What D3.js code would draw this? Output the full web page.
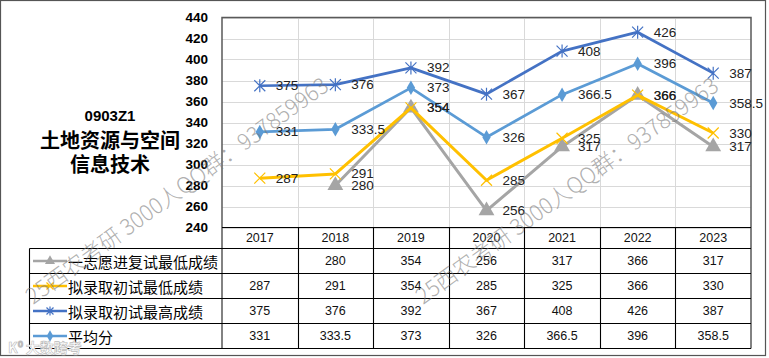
<!DOCTYPE html>
<html>
<head>
<meta charset="utf-8">
<script src="https://cdn.jsdelivr.net/npm/d3@7"></script>
<style>
html,body{margin:0;padding:0;background:#fff;}
svg{display:block;}
</style>
</head>
<body>
<svg id="chart" width="769" height="358"></svg>
<script>
const years = ["2017","2018","2019","2020","2021","2022","2023"];
const seriesNames = ["一志愿进复试最低成绩","拟录取初试最低成绩","拟录取初试最高成绩","平均分"];
const firstChoiceMin = [null,280,354,256,317,366,317];
const admitMin = [287,291,354,285,325,366,330];
const admitMax = [375,376,392,367,408,426,387];
const average = [331,333.5,373,326,366.5,396,358.5];
const yTicks = [240,260,280,300,320,340,360,380,400,420,440];
const titleLines = ["0903Z1","土地资源与空间","信息技术"];
const watermark = "25西农考研 3000人QQ群：937859963";

const seriesValues = [firstChoiceMin, admitMin, admitMax, average];
const colors = ["#A5A5A5","#FFC000","#4472C4","#5B9BD5"];
const markers = ["triangle","x","asterisk","diamond"];

const svg = d3.select("#chart");
const pLeft = 222, pRight = 751, pTop = 17.5, pBottom = 227.5;
const tableRows = [248.5, 273.5, 298.5, 323.5, 348.5];
const legendLeft = 29.5;

const x = d3.scaleBand().domain(years).range([pLeft, pRight]).padding(0);
const y = d3.scaleLinear().domain([240, 440]).range([pBottom, pTop]);

// outer frame
svg.append("rect").attr("x",0.5).attr("y",0.5).attr("width",765).attr("height",355)
  .attr("fill","#fff").attr("stroke","#555").attr("stroke-width",1.2);

// gridlines
svg.append("g").selectAll("line").data(yTicks).join("line")
  .attr("x1",pLeft).attr("x2",pRight)
  .attr("y1",d=>Math.round(y(d))+0.5).attr("y2",d=>Math.round(y(d))+0.5)
  .attr("stroke","#D9D9D9").attr("stroke-width",1);
svg.append("g").selectAll("line").data(years.slice(1)).join("line")
  .attr("x1",d=>Math.round(x(d))+0.5).attr("x2",d=>Math.round(x(d))+0.5)
  .attr("y1",pTop).attr("y2",pBottom)
  .attr("stroke","#D9D9D9").attr("stroke-width",1);

// y axis labels
const yAxis = d3.axisLeft(y).tickValues(yTicks).tickSize(0).tickPadding(0);
const ya = svg.append("g").attr("transform",`translate(${pLeft-14},0)`).call(yAxis);
ya.select(".domain").remove();
ya.selectAll("text").attr("font-family","'Liberation Sans',Arial,sans-serif")
  .attr("font-size",13.5).attr("font-weight","bold").attr("fill","#000");

// plot border
svg.append("path")
  .attr("d",`M${pLeft},${tableRows[4]}V${pTop}H${pRight}V${tableRows[4]}`)
  .attr("fill","none").attr("stroke","#595959").attr("stroke-width",1.5);

// table
const tg = svg.append("g").attr("stroke","#000").attr("stroke-width",1.1);
tg.append("line").attr("x1",pLeft).attr("x2",pRight).attr("y1",pBottom).attr("y2",pBottom);
tableRows.forEach(r=>{
  tg.append("line").attr("x1",legendLeft).attr("x2",pRight).attr("y1",r).attr("y2",r);
});
tg.append("line").attr("x1",legendLeft).attr("x2",legendLeft).attr("y1",tableRows[0]).attr("y2",tableRows[4]);
years.slice(1).forEach(yr=>{
  tg.append("line").attr("x1",Math.round(x(yr))+0.5).attr("x2",Math.round(x(yr))+0.5)
    .attr("y1",pBottom).attr("y2",tableRows[4]);
});

const numFont = "'Liberation Sans',Arial,sans-serif";
svg.append("g").selectAll("text").data(years).join("text")
  .attr("x",d=>x(d)+x.bandwidth()/2).attr("y",(pBottom+tableRows[0])/2)
  .attr("text-anchor","middle").attr("dominant-baseline","central")
  .attr("font-family",numFont).attr("font-size",12.5).attr("fill","#111").text(d=>d);

function drawMarker(sel, type, color, size){
  const s = size;
  if(type==="triangle"){
    sel.append("path").attr("d",d3.symbol(d3.symbolTriangle, s*s*0.9)()).attr("fill",color);
  } else if(type==="diamond"){
    sel.append("path").attr("d",d3.symbol(d3.symbolDiamond, s*s*0.75)()).attr("fill",color);
  } else if(type==="x"){
    const h=s/2;
    sel.append("path").attr("d",`M${-h},${-h}L${h},${h}M${-h},${h}L${h},${-h}`)
      .attr("stroke",color).attr("stroke-width",1.2).attr("fill","none");
  } else if(type==="asterisk"){
    const h=s/2;
    sel.append("path").attr("d",`M${-h},${-h}L${h},${h}M${-h},${h}L${h},${-h}M0,${-h-1}L0,${h+1}`)
      .attr("stroke",color).attr("stroke-width",1.2).attr("fill","none");
  }
}

seriesValues.forEach((vals,i)=>{
  const rc = (tableRows[i]+tableRows[i+1])/2;
  const lg = svg.append("g");
  lg.append("line").attr("x1",33).attr("x2",67).attr("y1",rc).attr("y2",rc)
    .attr("stroke",colors[i]).attr("stroke-width",2.5);
  drawMarker(lg.append("g").attr("transform",`translate(50,${rc})`), markers[i], colors[i], 7);
  lg.append("text").attr("x",68).attr("y",rc).attr("dominant-baseline","central")
    .attr("font-family","'Noto Sans CJK SC',sans-serif").attr("font-size",15).attr("fill","#000")
    .text(seriesNames[i]);
  svg.append("g").selectAll("text").data(vals.map((v,j)=>({v,yr:years[j]})).filter(d=>d.v!==null)).join("text")
    .attr("x",d=>x(d.yr)+x.bandwidth()/2).attr("y",rc)
    .attr("text-anchor","middle").attr("dominant-baseline","central")
    .attr("font-family",numFont).attr("font-size",12.5).attr("fill","#111").text(d=>d.v);
});

// lines
seriesValues.forEach((vals,i)=>{
  const pts = vals.map((v,j)=>({v,yr:years[j]}));
  const line = d3.line().defined(d=>d.v!==null)
    .x(d=>x(d.yr)+x.bandwidth()/2).y(d=>y(d.v));
  svg.append("path").datum(pts).attr("d",line).attr("fill","none")
    .attr("stroke",colors[i]).attr("stroke-width",i<2?3:2.75).attr("stroke-linejoin","round");
  const mg = svg.append("g");
  pts.filter(d=>d.v!==null).forEach(d=>{
    drawMarker(mg.append("g").attr("transform",`translate(${x(d.yr)+x.bandwidth()/2},${y(d.v)})`),
      markers[i], colors[i], i===3?9:11);
  });
});

// data labels
seriesValues.forEach((vals,i)=>{
  const pts = vals.map((v,j)=>({v,yr:years[j]})).filter(d=>d.v!==null);
  svg.append("g").selectAll("text").data(pts).join("text")
    .attr("x",d=>x(d.yr)+x.bandwidth()/2+16).attr("y",d=>y(d.v))
    .attr("dominant-baseline","central")
    .attr("font-family",numFont).attr("font-size",13.5).attr("fill","#222").text(d=>d.v);
});

// title
const tt = svg.append("g").attr("font-family","'Liberation Sans','Noto Sans CJK SC',sans-serif").attr("fill","#000")
  .attr("text-anchor","middle").attr("font-weight","bold");
tt.append("text").attr("x",110).attr("y",121)
  .attr("font-size",15).text(titleLines[0]);
tt.append("text").attr("x",110).attr("y",148)
  .attr("font-size",20).text(titleLines[1]);
tt.append("text").attr("x",110).attr("y",172)
  .attr("font-size",20).text(titleLines[2]);

// watermarks
[[33,305],[423,305]].forEach(p=>{
  svg.append("text").attr("transform",`translate(${p[0]},${p[1]}) rotate(-36)`)
    .attr("font-family","'Noto Sans CJK SC',sans-serif").attr("font-weight",300)
    .attr("font-size",22).attr("fill","#7a7a7a").attr("fill-opacity",0.6)
    .text(watermark);
});
svg.append("text").attr("x",8).attr("y",353)
  .attr("font-family","'Noto Sans CJK SC',sans-serif").attr("font-size",14).attr("font-weight","bold")
  .attr("fill","#fff").attr("stroke","#bbb").attr("stroke-width",0.6).text("K⁰ 大数跨考");
</script>
</body>
</html>
